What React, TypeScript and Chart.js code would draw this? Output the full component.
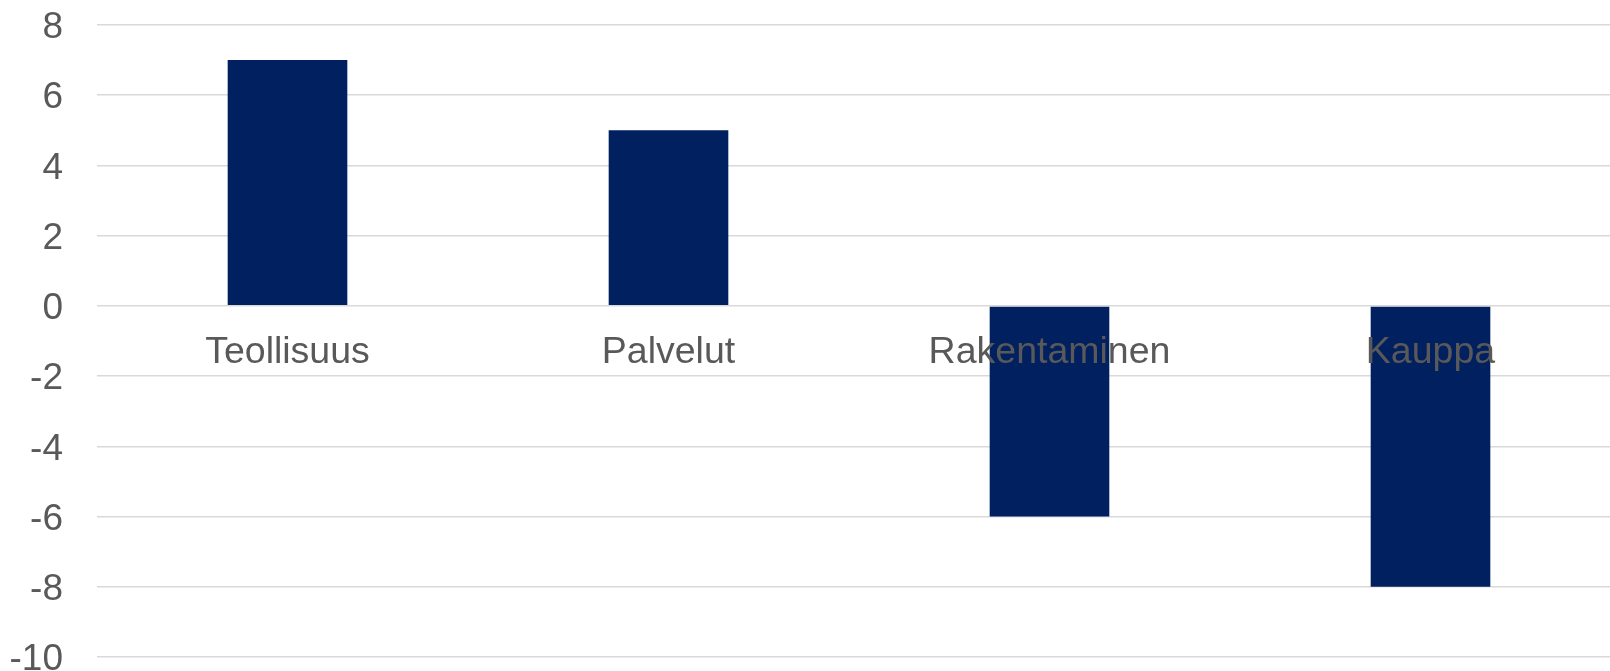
import React, { useEffect, useRef } from "react";
import { Chart, registerables } from "chart.js";

Chart.register(...registerables);

const categories = ["Teollisuus", "Palvelut", "Rakentaminen", "Kauppa"];
const values = [7, 5, -6, -8];
const yMin = -10;
const yMax = 8;
const yStep = 2;

const FONT = '"Liberation Sans", Arial, sans-serif';
const TEXT = "#595959";

export default function App() {
  const ref = useRef<HTMLCanvasElement | null>(null);

  useEffect(() => {
    if (!ref.current) return;
    const chart = new Chart(ref.current, {
      type: "bar",
      data: {
        labels: categories,
        datasets: [
          {
            data: values,
            backgroundColor: "#002060",
            borderWidth: 0,
            barPercentage: 0.314,
            categoryPercentage: 1,
          },
        ],
      },
      options: {
        responsive: false,
        animation: false,
        events: [],
        layout: { padding: { top: 25, bottom: 14, left: 0, right: 0 } },
        plugins: {
          legend: { display: false },
          tooltip: { enabled: false },
          title: { display: false },
        },
        scales: {
          x: {
            position: { y: 0 } as any,
            grid: { display: false, drawTicks: false },
            border: { display: false },
            ticks: {
              z: 1,
              color: TEXT,
              font: { family: FONT, size: 37.5, lineHeight: 1.2 },
              padding: 24,
              maxRotation: 0,
              autoSkip: false,
            },
            afterFit: (scale: any) => {
              scale.paddingLeft = 0;
              scale.paddingRight = 0;
              scale.paddingTop = 0;
              scale.paddingBottom = 0;
            },
          },
          y: {
            min: yMin,
            max: yMax,
            grid: { color: "#d9d9d9", lineWidth: 1.6, drawTicks: false },
            border: { display: false },
            ticks: {
              stepSize: yStep,
              color: TEXT,
              font: { family: FONT, size: 37 },
              padding: 34,
              labelOffset: 3,
            },
            afterFit: (scale: any) => {
              scale.width = 97;
              scale.paddingTop = 0;
              scale.paddingBottom = 0;
            },
          },
        },
      },
    });
    return () => chart.destroy();
  }, []);

  return (
    <div
      style={{
        position: "fixed",
        left: 0,
        top: 0,
        width: 1610,
        height: 671,
        overflow: "hidden",
        background: "#ffffff",
      }}
    >
      <canvas ref={ref} width={1621} height={671} style={{ display: "block" }} />
    </div>
  );
}
